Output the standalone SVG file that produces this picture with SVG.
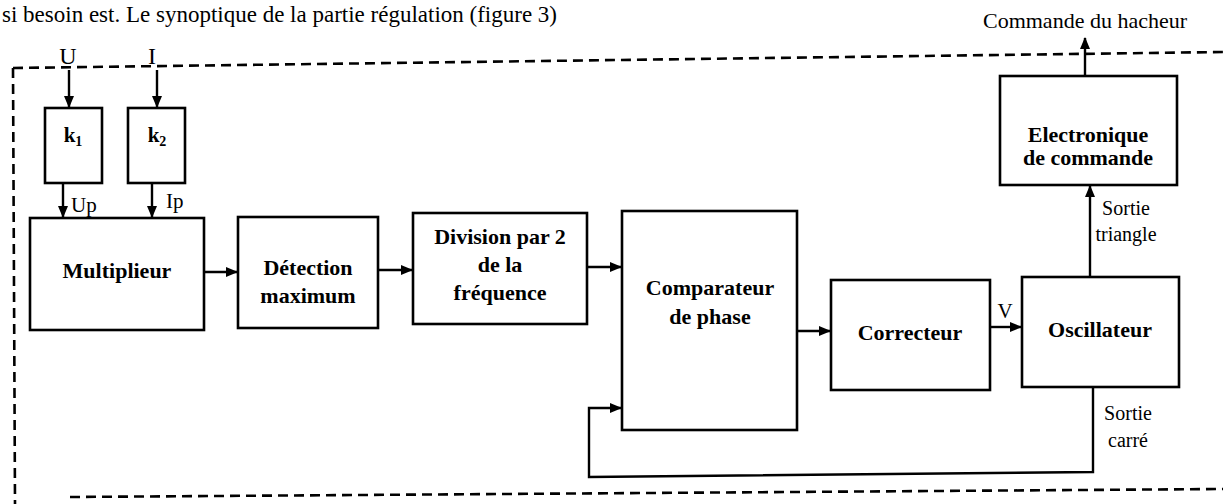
<svg xmlns="http://www.w3.org/2000/svg" width="1223" height="504" viewBox="0 0 1223 504">
<style>
.bx{fill:#fff;stroke:#000;stroke-width:2.6}
.ln{fill:none;stroke:#000;stroke-width:2.4}
.ds{fill:none;stroke:#000;stroke-width:2.6;stroke-dasharray:10 6}
.b{font-family:"Liberation Serif","Times New Roman",serif;font-weight:bold;font-size:22px;text-anchor:middle;fill:#000}
.r{font-family:"Liberation Serif","Times New Roman",serif;font-size:21px;fill:#000}
.c{text-anchor:middle}
</style>
<defs>
<marker id="ah" markerWidth="12" markerHeight="10" refX="11" refY="5" orient="auto" markerUnits="userSpaceOnUse">
<path d="M0,0 L12,5 L0,10 Z" fill="#000"/>
</marker>
</defs>
<rect width="1223" height="504" fill="#fff"/>
<text x="2" y="22" class="r" style="font-size:23px">si besoin est. Le synoptique de la partie régulation (figure 3)</text>
<g id="frame">
<path class="ds" d="M13,68 L1223,52"/>
<path class="ds" d="M13,68 L15,504"/>
<path class="ds" d="M70,497 L1223,489"/>
</g>
<g id="connectors">
<path class="ln" d="M69,70 V107" marker-end="url(#ah)"/>
<path class="ln" d="M157,70 V107" marker-end="url(#ah)"/>
<path class="ln" d="M63,183 V217" marker-end="url(#ah)"/>
<path class="ln" d="M152,183 V217" marker-end="url(#ah)"/>
<path class="ln" d="M204,272 H237" marker-end="url(#ah)"/>
<path class="ln" d="M378,270 H412" marker-end="url(#ah)"/>
<path class="ln" d="M587,267 H621" marker-end="url(#ah)"/>
<path class="ln" d="M797,331 H830" marker-end="url(#ah)"/>
<path class="ln" d="M990,327 H1021" marker-end="url(#ah)"/>
<path class="ln" d="M1090,277 V186" marker-end="url(#ah)"/>
<path class="ln" d="M1085,76 V38" marker-end="url(#ah)"/>
<path class="ln" d="M1093,387 V472 L589,477 V408 H621" marker-end="url(#ah)"/>
</g>
<g id="labels">
<text x="68" y="64" class="r c" style="font-size:24px">U</text>
<text x="152" y="64" class="r c" style="font-size:24px">I</text>
<text x="71" y="212" class="r">Up</text>
<text x="166" y="208" class="r">Ip</text>
<text x="1005" y="318" class="r c">V</text>
<text x="1085" y="28" class="r c" style="font-size:22px">Commande du hacheur</text>
<text x="1126" y="215" class="r c" style="font-size:20px">Sortie</text>
<text x="1126" y="241" class="r c" style="font-size:20px">triangle</text>
<text x="1128" y="420" class="r c" style="font-size:20px">Sortie</text>
<text x="1128" y="447" class="r c" style="font-size:20px">carré</text>
</g>
<g id="k1">
<rect class="bx" x="45" y="108" width="57" height="75"/>
<text x="73" y="142" class="b" style="font-size:21px">k<tspan font-size="14" dy="4">1</tspan></text>
</g>
<g id="k2">
<rect class="bx" x="128" y="108" width="57" height="75"/>
<text x="157" y="142" class="b" style="font-size:21px">k<tspan font-size="14" dy="4">2</tspan></text>
</g>
<g id="multiplieur">
<rect class="bx" x="30" y="218" width="174" height="112"/>
<text x="117" y="278" class="b">Multiplieur</text>
</g>
<g id="detection">
<rect class="bx" x="238" y="217" width="140" height="111"/>
<text x="308" y="275" class="b">Détection</text>
<text x="308" y="303" class="b">maximum</text>
</g>
<g id="division">
<rect class="bx" x="413" y="213" width="174" height="111"/>
<text x="500" y="244" class="b">Division par 2</text>
<text x="500" y="272" class="b">de la</text>
<text x="500" y="300" class="b">fréquence</text>
</g>
<g id="comparateur">
<rect class="bx" x="622" y="211" width="175" height="219"/>
<text x="710" y="295" class="b">Comparateur</text>
<text x="710" y="324" class="b">de phase</text>
</g>
<g id="correcteur">
<rect class="bx" x="831" y="280" width="159" height="110"/>
<text x="910" y="340" class="b">Correcteur</text>
</g>
<g id="oscillateur">
<rect class="bx" x="1022" y="277" width="157" height="110"/>
<text x="1100" y="337" class="b">Oscillateur</text>
</g>
<g id="electronique">
<rect class="bx" x="1000" y="76" width="177" height="109"/>
<text x="1088" y="142" class="b">Electronique</text>
<text x="1088" y="165" class="b">de commande</text>
</g>
</svg>
